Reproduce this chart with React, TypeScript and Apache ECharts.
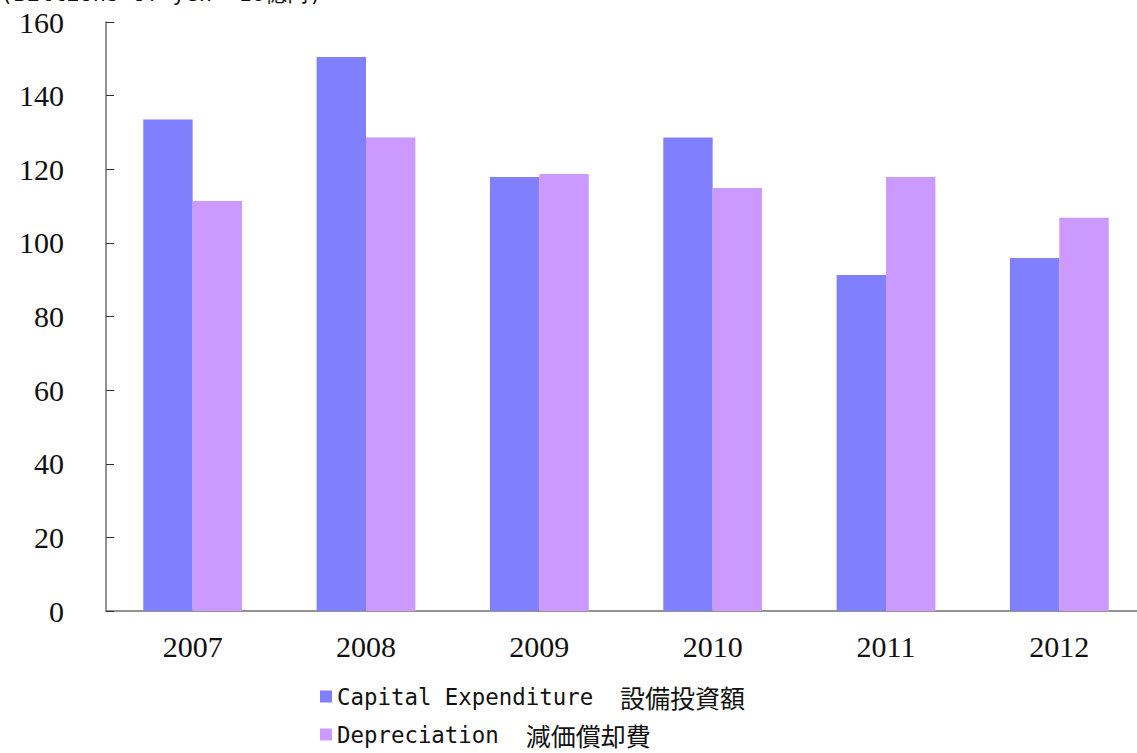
import React, { useEffect, useRef } from "react";
import * as echarts from "echarts";

const years = ["2007", "2008", "2009", "2010", "2011", "2012"];
const capex = [133.5, 150.5, 117.9, 128.6, 91.3, 95.9];
const depreciation = [111.4, 128.6, 118.7, 114.9, 117.9, 106.8];
const seriesNames = ["Capital Expenditure  設備投資額", "Depreciation  減価償却費"];
const unitLabel = "(Billions of yen  10億円)";

export default function App() {
  const ref = useRef<HTMLDivElement>(null);
  useEffect(() => {
    if (!ref.current) return;
    const chart = echarts.init(ref.current, null, { renderer: "svg" });
    const mono = "'DejaVu Sans Mono', monospace";
    const cjk = "'Noto Sans CJK JP', sans-serif";
    const fmt = (name: string) => {
      const idx = name.search(/[\u3000-\u9fff]/);
      const lat = idx >= 0 ? name.slice(0, idx) : name;
      const jp = idx >= 0 ? name.slice(idx) : "";
      return `{a|${lat}}{b|${jp}}`;
    };
    chart.setOption({
      animation: false,
      grid: { left: 106, top: 22, bottom: 142, right: 14 },
      graphic: [
        {
          type: "text",
          left: 0,
          top: -18,
          style: {
            text: unitLabel,
            font: `22px ${mono}`,
            fill: "#111",
          },
        },
      ],
      legend: {
        orient: "vertical",
        left: 320,
        top: 684,
        height: 100,
        padding: 0,
        itemWidth: 12,
        itemHeight: 12,
        itemGap: 13,
        icon: "rect",
        formatter: fmt,
        textStyle: {
          rich: {
            a: { fontFamily: mono, fontSize: 22.4, color: "#111", lineHeight: 26 },
            b: { fontFamily: cjk, fontSize: 25, color: "#111", lineHeight: 26 },
          },
        },
      },
      xAxis: {
        type: "category",
        data: years,
        axisLine: { lineStyle: { color: "#707070", width: 1.5 } },
        axisTick: { inside: true, length: 8, lineStyle: { color: "#555" } },
        axisLabel: {
          fontFamily: "'Liberation Serif', serif",
          fontSize: 30,
          color: "#111",
          margin: 20,
        },
      },
      yAxis: {
        type: "value",
        min: 0,
        max: 160,
        interval: 20,
        splitLine: { show: false },
        axisLine: { show: true, lineStyle: { color: "#707070", width: 1.5 } },
        axisTick: { show: true, inside: true, length: 8, lineStyle: { color: "#333" } },
        axisLabel: {
          fontFamily: "'Liberation Serif', serif",
          fontSize: 30,
          color: "#111",
          margin: 42,
        },
      },
      series: [
        {
          name: seriesNames[0],
          type: "bar",
          data: capex,
          barGap: "0%",
          barCategoryGap: "43%",
          itemStyle: { color: "#8080FF" },
        },
        {
          name: seriesNames[1],
          type: "bar",
          data: depreciation,
          barGap: "0%",
          barCategoryGap: "43%",
          itemStyle: { color: "#CC99FF" },
        },
      ],
    });
    return () => chart.dispose();
  }, []);
  return (
    <div style={{ position: "fixed", left: 0, top: 0, width: 1137, height: 753, overflow: "hidden", background: "#fff" }}>
      <div ref={ref} style={{ width: 1160, height: 753 }} />
    </div>
  );
}
